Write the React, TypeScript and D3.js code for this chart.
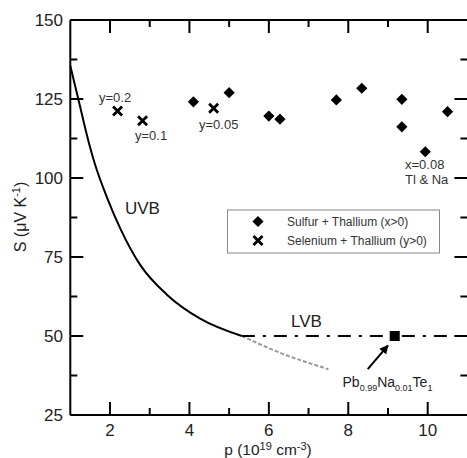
import React from "react";
import * as d3 from "d3";

// ---- data ----
const sulfurP = [4.1, 5.0, 6.0, 6.28, 7.7, 8.34, 9.35, 9.35, 9.94, 10.5];
const sulfurS = [124.1, 127.0, 119.6, 118.6, 124.7, 128.4, 124.9, 116.2, 108.3, 121.0];
const seleniumP = [2.19, 2.82, 4.61];
const seleniumS = [121.2, 118.1, 122.1];
const pbNaP = [9.17];
const pbNaS = [50];
const uvbP = [1.0, 1.23, 1.4, 1.61, 1.95, 2.26, 2.76, 3.44, 4.27, 5.32];
const uvbS = [135.5, 123.5, 114.5, 104.8, 93.0, 84.0, 72.5, 63.0, 55.5, 50.0];
const uvbExtP = [5.32, 6.3, 7.5];
const uvbExtS = [50.0, 44.6, 39.5];
const lvbP = [5.32, 11];
const lvbS = [50, 50];
const xMajor = [2, 4, 6, 8, 10];
const xMinor = [3, 5, 7, 9];
const yMajor = [25, 50, 75, 100, 125, 150];
const yMinor = [37.5, 62.5, 87.5, 112.5, 137.5];

const W = 467;
const H = 458;
const FONT = "'Liberation Sans', Arial, sans-serif";

export default function App() {
  const x = d3.scaleLinear().domain([1, 11]).range([70.3, 467.4]);
  const y = d3.scaleLinear().domain([25, 150]).range([415, 20]);
  const L = x(1), R = x(11), T = y(150), B = y(25);

  const line = d3
    .line<[number, number]>()
    .x((d) => x(d[0]))
    .y((d) => y(d[1]))
    .curve(d3.curveMonotoneX);
  const uvb = line(uvbP.map((p, i) => [p, uvbS[i]]));
  const uvbExt = line(uvbExtP.map((p, i) => [p, uvbExtS[i]]));
  const lvb = d3.line<[number, number]>().x((d) => x(d[0])).y((d) => y(d[1]))(
    lvbP.map((p, i) => [p, lvbS[i]])
  );

  const diamond = (cx: number, cy: number, r = 5.6) =>
    `M${cx},${cy - r}L${cx + r},${cy}L${cx},${cy + r}L${cx - r},${cy}Z`;
  const cross = (cx: number, cy: number, r = 4.5) =>
    `M${cx - r},${cy - r}L${cx + r},${cy + r}M${cx - r},${cy + r}L${cx + r},${cy - r}`;

  const arrowFrom = [x(8.49), y(39.5)];
  const arrowTo = [x(9.0), y(47.0)];

  return (
    <svg
      width={W}
      height={H}
      style={{ position: "absolute", left: 0, top: 0, background: "#fff" }}
      fontFamily={FONT}
    >
      <defs>
        <marker id="ah" viewBox="0 0 10 10" refX="9" refY="5" markerWidth="4.5" markerHeight="4.5" orient="auto">
          <path d="M0,0L10,5L0,10Z" fill="#000" />
        </marker>
      </defs>
      {/* frame */}
      <line x1={L} x2={L} y1={T} y2={B} stroke="#000" strokeWidth={2} />
      <line x1={L} x2={R} y1={B} y2={B} stroke="#000" strokeWidth={2} />
      <line x1={L} x2={R} y1={T} y2={T} stroke="#000" strokeWidth={2} />
      <line x1={R + 1.5} x2={R + 1.5} y1={T} y2={B} stroke="#000" strokeWidth={2} />
      {/* x ticks */}
      {xMajor.map((v) => (
        <g key={"xM" + v}>
          <line x1={x(v)} x2={x(v)} y1={B} y2={B - 13} stroke="#000" strokeWidth={2} />
          <line x1={x(v)} x2={x(v)} y1={T} y2={T + 13} stroke="#000" strokeWidth={2} />
          <text x={x(v)} y={436} textAnchor="middle" fontSize={17} fill="#222">
            {v}
          </text>
        </g>
      ))}
      {xMinor.map((v) => (
        <g key={"xm" + v}>
          <line x1={x(v)} x2={x(v)} y1={B} y2={B - 7} stroke="#000" strokeWidth={2} />
          <line x1={x(v)} x2={x(v)} y1={T} y2={T + 7} stroke="#000" strokeWidth={2} />
        </g>
      ))}
      {/* y ticks */}
      {yMajor.map((v) => (
        <g key={"yM" + v}>
          <line x1={L} x2={L + 13} y1={y(v)} y2={y(v)} stroke="#000" strokeWidth={2} />
          <line x1={R} x2={R - 13} y1={y(v)} y2={y(v)} stroke="#000" strokeWidth={2} />
          <text x={63} y={y(v) + 6} textAnchor="end" fontSize={17} fill="#222">
            {v}
          </text>
        </g>
      ))}
      {yMinor.map((v) => (
        <g key={"ym" + v}>
          <line x1={L} x2={L + 7} y1={y(v)} y2={y(v)} stroke="#000" strokeWidth={2} />
          <line x1={R} x2={R - 7} y1={y(v)} y2={y(v)} stroke="#000" strokeWidth={2} />
        </g>
      ))}
      {/* axis titles */}
      <text transform="translate(26,217) rotate(-90)" textAnchor="middle" fontSize={16} fill="#222">
        S (μV K<tspan dy={-6} fontSize={11}>-1</tspan>
        <tspan dy={6}>)</tspan>
      </text>
      <text x={268} y={455} textAnchor="middle" fontSize={15.5} fill="#222">
        p (10<tspan dy={-5} fontSize={11}>19</tspan>
        <tspan dy={5}> cm</tspan>
        <tspan dy={-5} fontSize={11}>-3</tspan>
        <tspan dy={5}>)</tspan>
      </text>
      {/* curves */}
      <path d={uvb ?? ""} fill="none" stroke="#000" strokeWidth={2} />
      <path d={uvbExt ?? ""} fill="none" stroke="#999" strokeWidth={2} strokeDasharray="4,2" />
      <path d={lvb ?? ""} fill="none" stroke="#000" strokeWidth={2} strokeDasharray="13,8,3,8" />
      {/* points */}
      {sulfurP.map((p, i) => (
        <path key={"s" + i} d={diamond(x(p), y(sulfurS[i]))} fill="#000" />
      ))}
      {seleniumP.map((p, i) => (
        <path key={"e" + i} d={cross(x(p), y(seleniumS[i]))} stroke="#000" strokeWidth={2.8} fill="none" />
      ))}
      {pbNaP.map((p, i) => (
        <rect key={"p" + i} x={x(p) - 5} y={y(pbNaS[i]) - 5} width={10} height={10} fill="#000" />
      ))}
      {/* annotations */}
      <g fontSize={13} fill="#333">
        <text x={99} y={102}>y=0.2</text>
        <text x={135} y={140}>y=0.1</text>
        <text x={199} y={128.5}>y=0.05</text>
        <text x={405} y={169}>x=0.08</text>
        <text x={405} y={184}>Tl &amp; Na</text>
      </g>
      <text x={125} y={214} fontSize={17} fill="#222">UVB</text>
      <text x={291} y={327} fontSize={17} fill="#222">LVB</text>
      <text x={342.5} y={387} fontSize={14} fill="#222">
        Pb<tspan dy={4} fontSize={9}>0.99</tspan>
        <tspan dy={-4}>Na</tspan>
        <tspan dy={4} fontSize={9}>0.01</tspan>
        <tspan dy={-4}>Te</tspan>
        <tspan dy={4} fontSize={9}>1</tspan>
      </text>
      <line
        x1={arrowFrom[0]}
        y1={arrowFrom[1]}
        x2={arrowTo[0]}
        y2={arrowTo[1]}
        stroke="#000"
        strokeWidth={2}
        markerEnd="url(#ah)"
      />
      {/* legend */}
      <rect x={227.5} y={210} width={212} height={43} fill="#fff" stroke="#888" strokeWidth={1} />
      <path d={diamond(258, 221.5)} fill="#000" />
      <path d={cross(258, 240.5)} stroke="#000" strokeWidth={2.8} fill="none" />
      <g fontSize={12} fill="#333">
        <text x={287} y={226}>Sulfur + Thallium (x&gt;0)</text>
        <text x={287} y={244.5}>Selenium + Thallium (y&gt;0)</text>
      </g>
    </svg>
  );
}
